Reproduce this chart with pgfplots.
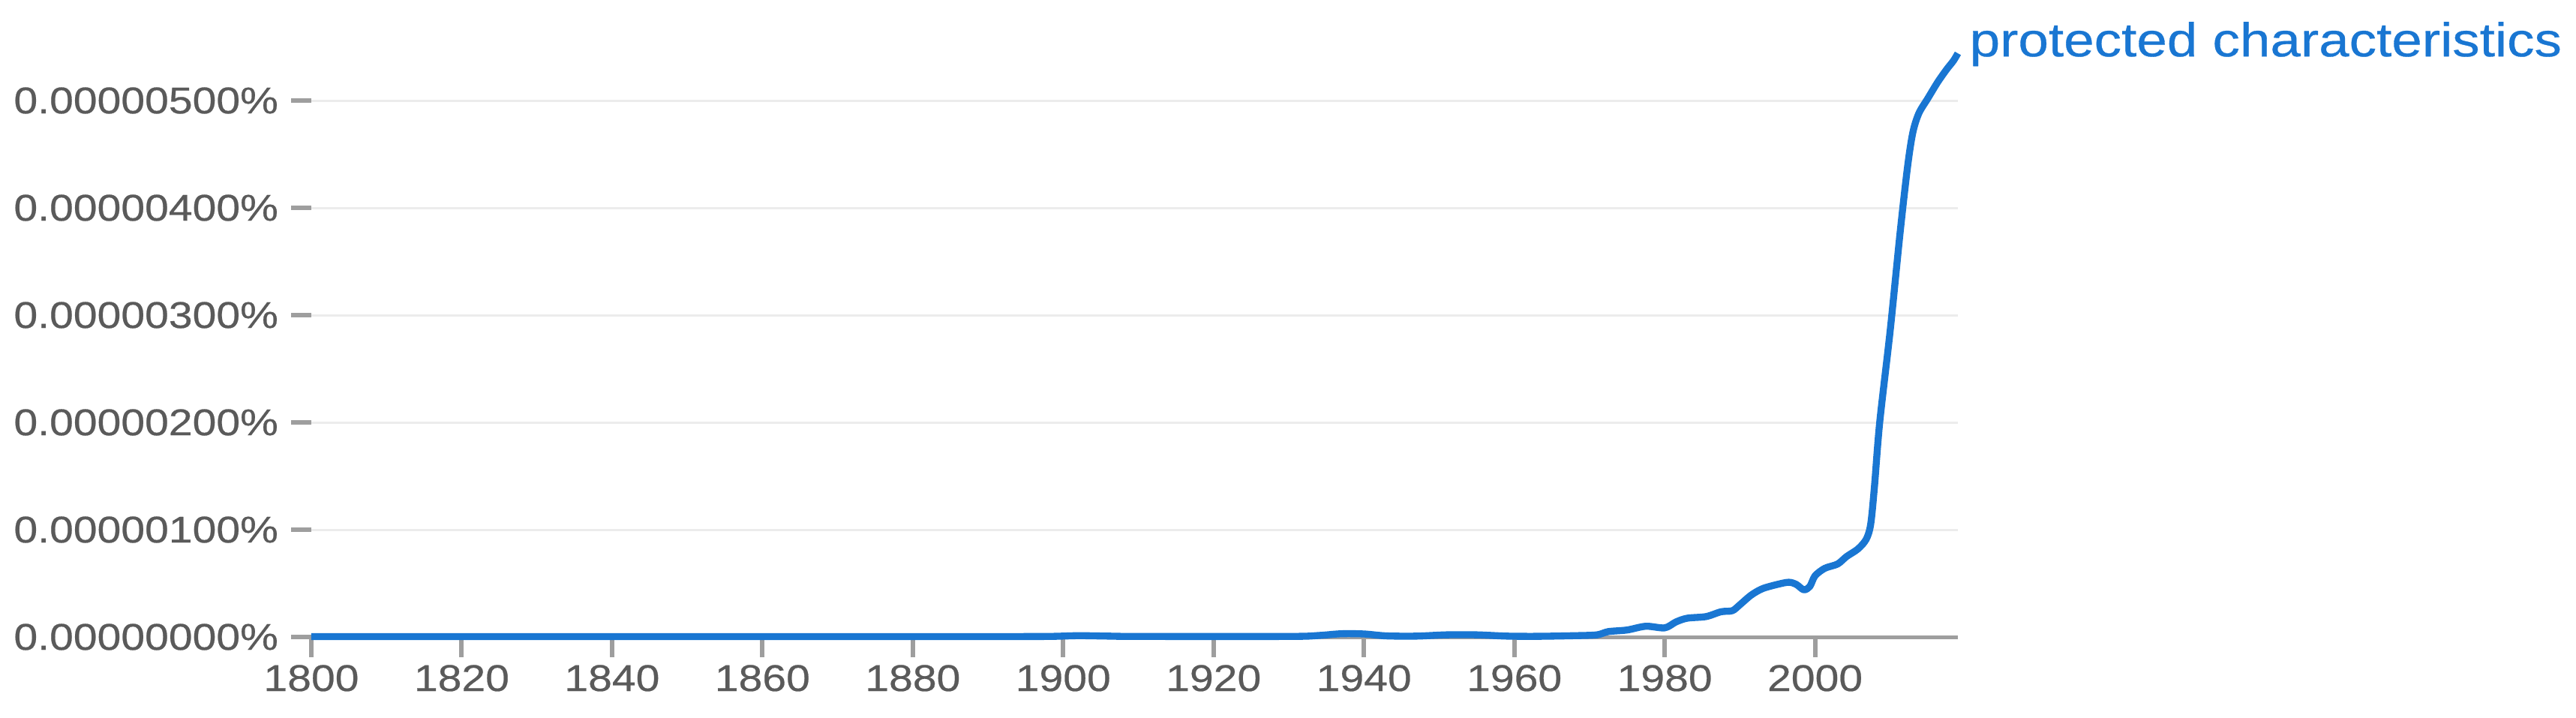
\documentclass[border=0pt]{standalone}
\usepackage{fontspec}
\setmainfont{Liberation Sans}[FakeStretch=1.15, FakeBold=0.5]
\usepackage{pgfplots}
\pgfplotsset{compat=1.18}
\usepackage{pgfplotstable}
\definecolor{lineblue}{RGB}{25,118,210}
\definecolor{axisgray}{RGB}{158,158,158}
\definecolor{gridgray}{RGB}{236,236,236}
\definecolor{labelgray}{RGB}{90,90,90}
\pgfplotstableread{
year value
1800 0.004
1830 0.004
1860 0.004
1890 0.004
1898 0.005
1902 0.012
1906 0.008
1910 0.005
1930 0.005
1934 0.014
1937 0.030
1940 0.028
1943 0.010
1947 0.008
1951 0.020
1955 0.020
1959 0.008
1963 0.006
1968 0.012
1971 0.020
1972.5 0.050
1975 0.065
1977.5 0.100
1980 0.085
1981.5 0.140
1983 0.175
1985.5 0.190
1987.5 0.235
1989 0.245
1990 0.300
1991.5 0.390
1993 0.450
1995 0.490
1996.5 0.510
1997.5 0.490
1998.5 0.440
1999.3 0.470
2000 0.570
2001.3 0.640
2003 0.680
2004.2 0.750
2005.7 0.820
2006.8 0.910
2007.4 1.050
2007.9 1.400
2008.6 2.000
2010 2.860
2011.3 3.760
2012.3 4.380
2013 4.700
2013.8 4.880
2015 5.020
2016.3 5.170
2017.5 5.290
2018.4 5.370
2019 5.440
}\ngram
\begin{document}
\begin{tikzpicture}
\path[use as bounding box] (-124.5pt,-32.1pt) rectangle (905.7pt,254.7pt);
\begin{axis}[
  at={(0pt,0pt)}, anchor=south west,
  width=658.5pt, height=235.95pt, scale only axis,
  xmin=1800, xmax=2019, ymin=0, ymax=5.5,
  axis x line*=bottom, axis y line*=left,
  y axis line style={draw=none},
  x axis line style={-, axisgray, line width=1.5pt},
  tick align=outside, major tick length=8pt,
  xtick={1800,1820,1840,1860,1880,1900,1920,1940,1960,1980,2000},
  xticklabels={1800,1820,1840,1860,1880,1900,1920,1940,1960,1980,2000},
  ytick={0,1,2,3,4,5},
  yticklabels={0.00000000\%,0.00000100\%,0.00000200\%,0.00000300\%,0.00000400\%,0.00000500\%},
  ymajorgrids, major grid style={gridgray, line width=0.9pt},
  tick style={axisgray, line width=1.8pt},
  ticklabel style={text=labelgray, font=\fontsize{14.9}{16}\selectfont, inner sep=0pt},
  yticklabel style={xshift=-5pt},
  xticklabel style={yshift=-3pt},
  clip=false,
]
\addplot[lineblue, line width=2.8pt, smooth, line join=round] table[x=year, y=value] {\ngram};
\node[anchor=base west, inner sep=0pt, text=lineblue, font=\fontsize{19}{22}\selectfont, xshift=4.5pt, yshift=-1.2pt] at (axis cs:2019,5.44) {protected characteristics};
\end{axis}
\end{tikzpicture}
\end{document}
